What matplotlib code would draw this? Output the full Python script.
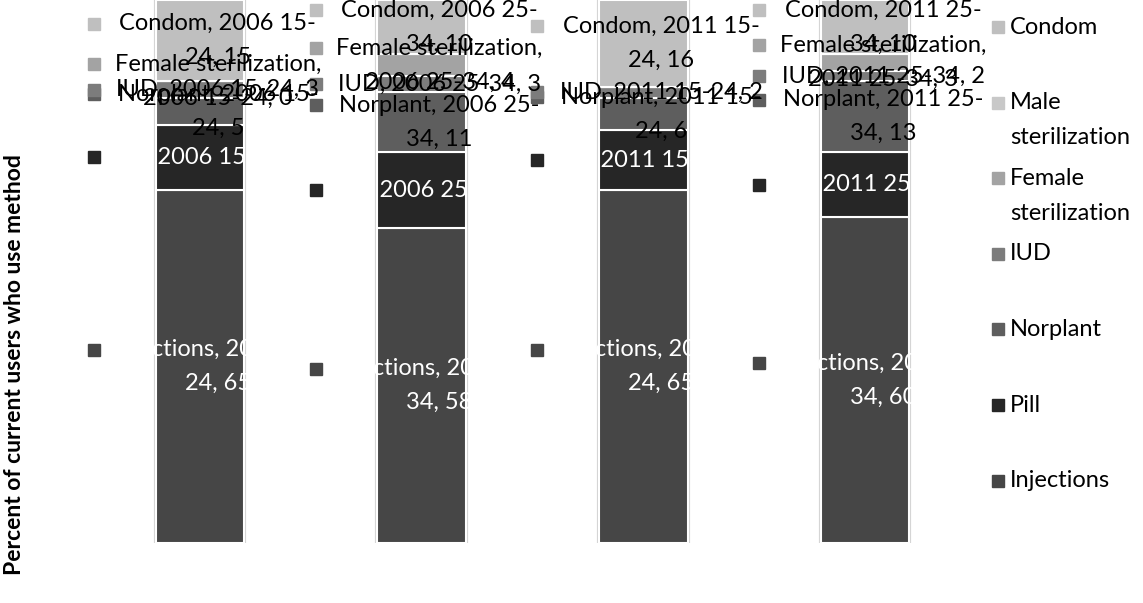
import numpy as np
import matplotlib
matplotlib.use("Agg")
import matplotlib.pyplot as plt
from matplotlib.transforms import offset_copy

plt.rcParams['font.family'] = ['Lato', 'DejaVu Sans']

# categories (year + age group) and shares of current users by method (%)
categories = ["2006 15-24", "2006 25-34", "2011 15-24", "2011 25-34"]
methods = ["Injections", "Pill", "Norplant", "IUD",
           "Female sterilization", "Male sterilization", "Condom"]
injections = [65, 58, 65, 60]
pill = [12, 14, 11, 12]
norplant = [5, 11, 6, 13]
iud = [3, 3, 2, 2]
female_ster = [0, 4, None, 3]
male_ster = [None, None, None, None]
condom = [15, 10, 16, 10]

series = [injections, pill, norplant, iud, female_ster, male_ster, condom]
colors = ["#464646", "#262626", "#5e5e5e", "#7c7c7c", "#a3a3a3", "#c8c8c8", "#bfbfbf"]
text_colors = ["white", "white", "black", "black", "black", "black", "black"]

FS = 17
LINE = 34  # px between wrapped label lines


def label_lines(name, cat, val):
    full = f"{name}, {cat}, {val}"
    if len(name) > 12:
        return [name + ",", f"{cat}, {val}"]
    if len(full) > 21:
        head, tail = cat.split("-")
        return [f"{name}, {head}-", f"{tail}, {val}"]
    return [full]


fig = plt.figure(figsize=(11.43, 6.03), dpi=100)
ax = fig.add_axes([89 / 1143, 60 / 603, 887 / 1143, 543 / 603])
ax.set_xlim(-0.5, 3.5)
ax.set_ylim(0, 100)
ax.axis('off')

x = np.arange(len(categories))
width = 0.4

# faint outline round each bar
ax.bar(x, 100, width, color='none', edgecolor='#d4d4d4', linewidth=3, zorder=1)

bottom = np.zeros(len(categories))
for vals, name, col, tcol in zip(series, methods, colors, text_colors):
    h = np.array([v if v is not None else 0 for v in vals], dtype=float)
    ax.bar(x, h, width, bottom=bottom, color=col, edgecolor='white',
           linewidth=1.5, zorder=2)
    for i, v in enumerate(vals):
        if v is None:
            continue
        yc = bottom[i] + h[i] / 2
        lines = label_lines(name, categories[i], v)
        n = len(lines)
        for k, line in enumerate(lines):
            dy = ((n - 1) / 2 - k) * LINE
            tr = offset_copy(ax.transData, fig, x=18, y=dy, units='dots')
            ax.text(i, yc, line, transform=tr, ha='center', va='center',
                    fontsize=FS, color=tcol, zorder=4, clip_on=False)
        tr = offset_copy(ax.transData, fig, x=-106, y=(n - 1) / 2 * LINE, units='dots')
        ax.plot(i, yc, marker='s', markersize=9, color=col, transform=tr,
                clip_on=False, zorder=3)
    bottom += h

# legend drawn at right, top entry first
leg_names = ["Condom", "Male\nsterilization", "Female\nsterilization", "IUD",
             "Norplant", "Pill", "Injections"]
leg_colors = colors[::-1]
for j, (lab, col) in enumerate(zip(leg_names, leg_colors)):
    ytop = 27 + j * 75.6
    fig.lines.append(plt.Line2D([998 / 1143], [1 - ytop / 603], marker='s',
                                markersize=9, color=col, transform=fig.transFigure))
    for k, part in enumerate(lab.split("\n")):
        fig.text(1010 / 1143, 1 - (ytop + k * 35) / 603, part, ha='left',
                 va='center', fontsize=FS)

fig.text(15 / 1143, 1 - 365 / 603, "Percent of current users who use method",
         rotation=90, ha='center', va='center', fontsize=16.5, fontweight='bold')

fig.savefig("out.png", dpi=100)
